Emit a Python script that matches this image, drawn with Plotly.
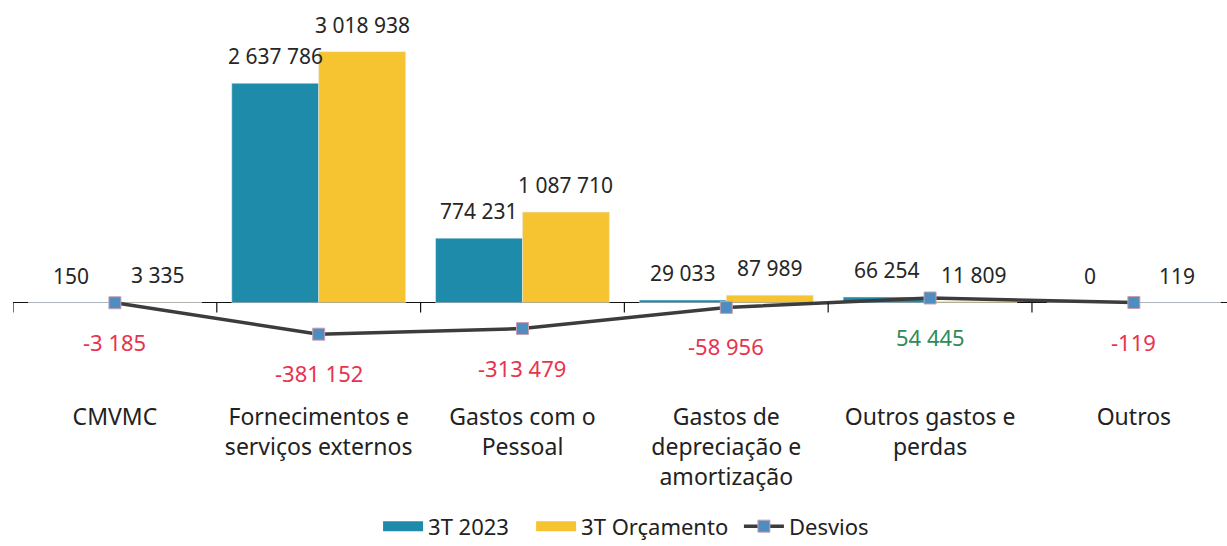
import plotly.graph_objects as go

categories = ["CMVMC", "Fornecimentos e<br>serviços externos", "Gastos com o<br>Pessoal",
              "Gastos de<br>depreciação e<br>amortização", "Outros gastos e<br>perdas", "Outros"]
real_2023 = [150, 2637786, 774231, 29033, 66254, 0]
orcamento = [3335, 3018938, 1087710, 87989, 11809, 119]
desvios = [-3185, -381152, -313479, -58956, 54445, -119]

TEAL = "#1E8BAA"
YELLOW = "#F6C431"
LINE = "#3C3C3C"
MARKER = "#4F8DC0"
RED = "#E8334F"
GREEN = "#2E8B5A"
FONT = "Noto Sans"
NB = "\u00a0"


def fmt(v):
    s = f"{abs(v):,}".replace(",", " ")
    return ("-" if v < 0 else "") + s


x = list(range(len(categories)))
bargap = 0.147
half = (1 - bargap) / 4

fig = go.Figure()
fig.add_trace(go.Bar(x=x, y=real_2023, name="3T 2023", marker_color=TEAL, showlegend=False))
fig.add_trace(go.Bar(x=x, y=orcamento, name="3T Orçamento", marker_color=YELLOW, showlegend=False))
# legend-only entries with wide rectangular swatches
fig.add_trace(go.Scatter(x=[None], y=[None], mode="lines", name="3T 2023" + NB * 3,
                         line=dict(color=TEAL, width=14)))
fig.add_trace(go.Scatter(x=[None], y=[None], mode="lines", name="3T Orçamento" + NB,
                         line=dict(color=YELLOW, width=14)))
fig.add_trace(go.Scatter(x=x, y=desvios, name="Desvios", mode="lines+markers",
                         line=dict(color=LINE, width=3.5),
                         marker=dict(symbol="square", size=12, color=MARKER,
                                     line=dict(color="#C9A0B0", width=1))))

ann = []
for i in x:
    ann.append(dict(x=i - half, y=real_2023[i], text=fmt(real_2023[i]), showarrow=False,
                    xref="x", yref="y", yanchor="middle", yshift=27,
                    font=dict(family=FONT, size=21, color="#262626")))
    ann.append(dict(x=i + half, y=orcamento[i], text=fmt(orcamento[i]), showarrow=False,
                    xref="x", yref="y", yanchor="middle", yshift=27,
                    font=dict(family=FONT, size=21, color="#262626")))
    ann.append(dict(x=i, y=desvios[i], text=fmt(desvios[i]), showarrow=False,
                    xref="x", yref="y", yanchor="middle", yshift=-39,
                    font=dict(family=FONT, size=22, color=RED if desvios[i] < 0 else GREEN)))

shapes = []
for b in range(len(categories) + 1):
    shapes.append(dict(type="line", xref="x", yref="y", x0=b - 0.5, x1=b - 0.5,
                       ysizemode="pixel", yanchor=0, y0=0, y1=-10,
                       line=dict(color="#111111", width=1.2)))

fig.update_layout(
    width=1227, height=546,
    margin=dict(l=13, r=0, t=10, b=151, autoexpand=False),
    paper_bgcolor="white", plot_bgcolor="white",
    barmode="group", bargap=bargap, bargroupgap=0,
    font=dict(family=FONT, size=22, color="#222222"),
    showlegend=True,
    legend=dict(orientation="h", x=0.505, xanchor="center", yref="container",
                y=0.036, yanchor="middle",
                font=dict(family=FONT, size=22, color="#222222"), itemwidth=40,
                bgcolor="rgba(0,0,0,0)"),
    annotations=ann, shapes=shapes,
)
fig.update_xaxes(range=[-0.5, 5.457], tickvals=x, ticktext=categories, showline=False,
                 showgrid=False, zeroline=False, ticks="", ticklabelstandoff=6,
                 tickfont=dict(family=FONT, size=23, color="#222222"))
fig.update_yaxes(range=[-1.113e6, 3.520e6], showgrid=False, showticklabels=False,
                 zeroline=True, zerolinecolor="#111111", zerolinewidth=1.2, showline=False)

fig.write_html("out.html", config={"displayModeBar": False},
               post_script="document.body.style.margin='0';")
